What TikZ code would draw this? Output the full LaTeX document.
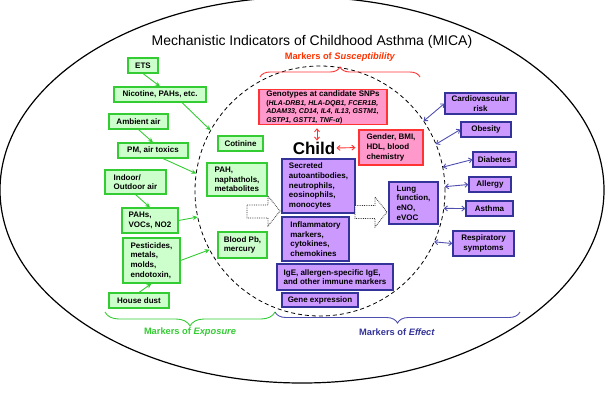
\documentclass[tikz,border=0pt]{standalone}
\usepackage{fontspec}
\setmainfont{Liberation Sans}
\usepackage{xcolor}
\definecolor{micaGreen}{HTML}{33CC33}
\definecolor{micaGreenFill}{HTML}{CCFFCC}
\definecolor{micaRed}{HTML}{FF3333}
\definecolor{micaRedText}{HTML}{FF3300}
\definecolor{micaPink}{HTML}{FF99CC}
\definecolor{micaPurple}{HTML}{CC99FF}
\definecolor{micaBlue}{HTML}{333399}
\definecolor{micaBlueArrow}{HTML}{4F4FB0}
\usetikzlibrary{arrows.meta,decorations.pathreplacing}

\tikzset{
  markerbox/.style={draw, line width=1.1pt, inner sep=1pt, align=left, font=\bfseries\fontsize{8}{9.6}\selectfont},
  exposurebox/.style={markerbox, draw=micaGreen, fill=micaGreenFill},
  suscbox/.style={markerbox, draw=micaRed, fill=micaPink},
  effectbox/.style={markerbox, draw=micaBlue, fill=micaPurple},
  outcomebox/.style={effectbox, align=center},
  expoarrow/.style={micaGreen, line width=0.9pt, -{Stealth[length=5pt,width=4.5pt]}},
  effectarrow/.style={micaBlueArrow, line width=0.9pt, {Straight Barb[length=3pt,width=5pt]}-{Straight Barb[length=3pt,width=5pt]}},
  suscarrow/.style={micaRed, line width=0.9pt, {Straight Barb[length=3pt,width=5pt]}-{Straight Barb[length=3pt,width=5pt]}},
  flowarrow/.style={draw=black!80, densely dotted, fill=white, line width=0.8pt},
  markerbrace/.style={decorate, decoration={brace, amplitude=#1}, line width=0.9pt},
  markerlabel/.style={font=\bfseries\fontsize{9.3}{11}\selectfont}
}

\begin{document}
\begin{tikzpicture}[x=1pt, y=-1pt]
  \useasboundingbox (0,0) rectangle (605,392);
  \draw[line width=1.2pt] (302,190) ellipse [x radius=302pt, y radius=193pt];
  \node[circle, draw, dash pattern=on 4pt off 3pt, line width=0.8pt, minimum size=250pt, inner sep=0pt, outer sep=0pt] (zone) at (320,191) {};

  \node[font=\fontsize{14}{16}\selectfont] (title) at (312,42) {Mechanistic Indicators of Childhood Asthma (MICA)};

  \node[exposurebox, minimum width=30pt, minimum height=15pt] (ets) at (143,65.5) {ETS};
  \node[exposurebox, minimum width=92pt, minimum height=15pt] (nicotine) at (160,94.5) {Nicotine, PAHs, etc.};
  \node[exposurebox, minimum width=59pt, minimum height=15pt] (ambient) at (138.5,121.5) {Ambient air};
  \node[exposurebox, minimum width=70pt, minimum height=15pt] (pm) at (153,150.5) {PM, air toxics};
  \node[exposurebox, minimum width=45pt, minimum height=15pt] (cotinine) at (240.5,143.5) {Cotinine};
  \node[exposurebox, minimum width=61pt, minimum height=24pt] (indoor) at (135.5,182) {Indoor/\\Outdoor air};
  \node[exposurebox, minimum width=60pt, minimum height=33pt] (pah) at (237,179.5) {PAH,\\naphathols,\\metabolites};
  \node[exposurebox, minimum width=56pt, minimum height=25pt] (pahs) at (150,220.5) {PAHs,\\VOCs, NO2};
  \node[exposurebox, minimum width=57pt, minimum height=45pt] (pesticides) at (151.5,260.5) {Pesticides,\\metals,\\molds,\\endotoxin,};
  \node[exposurebox, minimum width=60pt, minimum height=15pt] (dust) at (139,300.5) {House dust};
  \node[exposurebox, minimum width=49pt, minimum height=26pt] (blood) at (242.5,245) {Blood Pb,\\mercury};

  \node[suscbox, minimum width=128pt, minimum height=34pt, font=\bfseries\fontsize{7}{8.3}\selectfont] (genotypes) at (323,107) {\fontsize{8}{9.6}\selectfont Genotypes at candidate SNPs\\[1.2pt]
    (\textit{HLA-DRB1, HLA-DQB1, FCER1B,}\\
    \textit{ADAM33, CD14, IL4, IL13, GSTM1,}\\
    \textit{GSTP1, GSTT1, TNF-α})};
  \node[suscbox, minimum width=64pt, minimum height=35pt] (gender) at (391,147.5) {Gender, BMI,\\HDL, blood\\chemistry};
  \node[font=\bfseries\fontsize{17}{20}\selectfont, inner sep=1pt] (child) at (314,148) {Child};

  \node[effectbox, minimum width=73pt, minimum height=54pt] (secreted) at (318.5,186) {Secreted\\autoantibodies,\\neutrophils,\\eosinophils,\\monocytes};
  \node[effectbox, minimum width=67pt, minimum height=44pt] (inflammatory) at (315.5,239) {Inflammatory\\markers,\\cytokines,\\chemokines};
  \node[effectbox, minimum width=116pt, minimum height=26pt] (ige) at (335,277) {IgE, allergen-specific IgE,\\and other immune markers};
  \node[effectbox, minimum width=76pt, minimum height=14pt] (gene) at (320,300) {Gene expression};
  \node[effectbox, minimum width=49pt, minimum height=42pt] (lung) at (413.5,203) {Lung\\function,\\eNO,\\eVOC};

  \node[outcomebox, minimum width=71pt, minimum height=21pt] (cardio) at (480.5,103.5) {Cardiovascular\\risk};
  \node[outcomebox, minimum width=50pt, minimum height=15pt] (obesity) at (486,129.5) {Obesity};
  \node[outcomebox, minimum width=43pt, minimum height=15pt] (diabetes) at (494.5,159.5) {Diabetes};
  \node[outcomebox, minimum width=42pt, minimum height=15pt] (allergy) at (490,184.5) {Allergy};
  \node[outcomebox, minimum width=47pt, minimum height=15pt] (asthma) at (489.5,208.5) {Asthma};
  \node[outcomebox, minimum width=61pt, minimum height=25pt] (respiratory) at (483.5,243.5) {Respiratory\\symptoms};

  \draw[flowarrow] (247,205) -- (268,205) -- (268,196) -- (280,211) -- (268,226) -- (268,218) -- (247,218) -- cycle;
  \draw[flowarrow] (355,205.5) -- (375,205.5) -- (375,197) -- (387,212) -- (375,227) -- (375,218.5) -- (355,218.5) -- cycle;

  \draw[expoarrow] (ets.south) -- (nicotine.north);
  \draw[expoarrow] ([xshift=22pt]nicotine.south) -- (zone.151);
  \draw[expoarrow] (ambient.south) -- (pm.north);
  \draw[expoarrow] ([xshift=10pt]pm.south) -- (zone.172);
  \draw[expoarrow] (indoor.south) -- (pahs.north);
  \draw[expoarrow] (pahs.east) -- (zone.192);
  \draw[expoarrow] (pesticides.east) -- (zone.208);
  \draw[expoarrow] (dust.north) -- (pesticides.south);

  \draw[suscarrow] ([xshift=-6pt,yshift=-3pt]genotypes.south) -- ([xshift=3pt]child.north);
  \draw[suscarrow, shorten >=3pt] (child.east) -- (gender.west);

  \draw[effectarrow] (zone.34) -- (cardio.west);
  \draw[effectarrow] (zone.22) -- (obesity.west);
  \draw[effectarrow] (zone.11) -- (diabetes.west);
  \draw[effectarrow] (zone.2) -- (allergy.west);
  \draw[effectarrow] (zone.-8) -- (asthma.west);
  \draw[effectarrow] (zone.-24) -- (respiratory.west);

  \draw[markerbrace=10pt, micaRed] (260,77) -- (420,77);
  \draw[markerbrace=14pt, micaGreen] (275,312) -- (105,312);
  \draw[markerbrace=11pt, micaBlueArrow] (520,312) -- (275,312);
  \node[markerlabel, text=micaRedText] (susclabel) at (340,57) {Markers of \textit{Susceptibility}};
  \node[markerlabel, text=micaGreen] (expolabel) at (190,332) {Markers of \textit{Exposure}};
  \node[markerlabel, text=micaBlue] (effectlabel) at (397,332) {Markers of \textit{Effect}};
\end{tikzpicture}
\end{document}
